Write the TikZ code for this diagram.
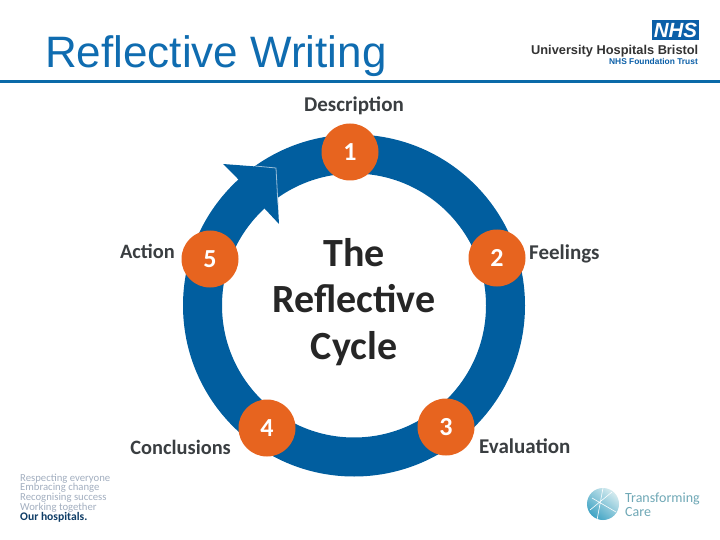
\documentclass[tikz,border=0pt]{standalone}
\usepackage{fontspec}
\setmainfont{Carlito}
\newfontfamily\arialf{Liberation Sans}
\usetikzlibrary{calc}
\definecolor{ringblue}{HTML}{015E9F}
\definecolor{numorange}{HTML}{E7641F}
\definecolor{titleblue}{HTML}{0F6CB0}
\definecolor{rulecol}{HTML}{0A6AA8}
\definecolor{labelcol}{HTML}{3A3E41}
\definecolor{valuecol}{HTML}{A3AFC0}
\definecolor{navycol}{HTML}{0F3D66}
\definecolor{tealtext}{HTML}{6FA8B6}
\definecolor{nhsblue}{HTML}{0B5FA8}
\definecolor{globedark}{HTML}{3FA3C4}
\definecolor{globelight}{HTML}{D5EBEF}
\tikzset{
  numdot/.style={circle,fill=numorange,minimum size=57pt,inner sep=0pt,text=white,font=\fontsize{26}{26}\selectfont\bfseries},
  steplabel/.style={inner sep=0pt,text=labelcol,font=\fontsize{21}{21}\selectfont\bfseries},
  steplabelsm/.style={inner sep=0pt,text=labelcol,font=\fontsize{20.4}{21}\selectfont\bfseries},
  centre/.style={inner sep=0pt,text=black!85,font=\fontsize{40}{40}\selectfont\bfseries},
  valueline/.style={anchor=west,inner sep=0pt,text=valuecol,font=\fontsize{10.7}{10.5}\selectfont}
}
\begin{document}
\begin{tikzpicture}[x=1pt,y=-1pt]
\useasboundingbox (0,0) rectangle (720,540);
\fill[white] (0,0) rectangle (720,540);
% header
\node[anchor=base west,inner sep=0pt,text=titleblue,font=\arialf\fontsize{44}{45}\selectfont] (title) at (45,68) {Reflective Writing};
\fill[rulecol] (0,80.5) rectangle (720,83);
\node[fill=nhsblue,minimum width=47pt,minimum height=20pt,inner sep=0pt,text=white,font=\arialf\fontsize{20.5}{20}\selectfont\bfseries\itshape] (nhs) at (675.5,30) {NHS};
\node[anchor=east,inner sep=0pt,text=black!80,font=\arialf\fontsize{12.8}{13}\selectfont\bfseries] (trust) at (698.5,51) {University Hospitals Bristol};
\node[anchor=east,inner sep=0pt,text=nhsblue,font=\arialf\fontsize{8.4}{8}\selectfont\bfseries] (found) at (698,62) {NHS Foundation Trust};
% ring
\fill[ringblue,even odd rule] (354,305.5) circle[radius=171] (354,305.5) circle[radius=132];
\fill[ringblue] (223,164) -- (276,168) -- (279,224) -- (265,209) -- (237,178) -- cycle;
\draw[white!60!ringblue,line width=0.8pt] (255,166) -- (276,168) -- (278,205);
% numbered discs
\node[numdot] (n1) at (350,152) {1};
\node[numdot] (n2) at (497,258) {2};
\node[numdot] (n3) at (446,427) {3};
\node[numdot] (n4) at (267,428) {4};
\node[numdot] (n5) at (210,259) {5};
% labels
\node[steplabel] (l1) at (354,106) {Description};
\node[steplabel,anchor=west] (l2) at (529,254) {Feelings};
\node[steplabel,anchor=west] (l3) at (479,446) {Evaluation};
\node[steplabelsm,anchor=east] (l4) at (231,447) {Conclusions};
\node[steplabelsm,anchor=east] (l5) at (175,251) {Action};
% centre
\node[centre] (c1) at (354,253) {The};
\node[centre] (c2) at (354,299) {Reflective};
\node[centre] (c3) at (354,349) {Cycle};
% values
\node[valueline] (v1) at (20,478.5) {Respecting everyone};
\node[valueline] (v2) at (20,488) {Embracing change};
\node[valueline] (v3) at (20,497.5) {Recognising success};
\node[valueline] (v4) at (20,507.5) {Working together};
\node[valueline,text=navycol,font=\fontsize{11.6}{11}\selectfont\bfseries] (v5) at (20,517.5) {Our hospitals.};
% transforming care
\shade[bottom color=globedark,top color=globelight,shading angle=-40] (603,504) circle[radius=16];
\draw[white,line width=.6pt] (590,510) -- (612,492) (592,498) -- (616,512) (603,488) -- (597,520);
\node[anchor=west,inner sep=0pt,text=tealtext,font=\fontsize{14}{14}\selectfont] (tc1) at (625,498.5) {Transforming};
\node[anchor=west,inner sep=0pt,text=tealtext,font=\fontsize{14}{14}\selectfont] (tc2) at (625,512) {Care};
\end{tikzpicture}
\end{document}
